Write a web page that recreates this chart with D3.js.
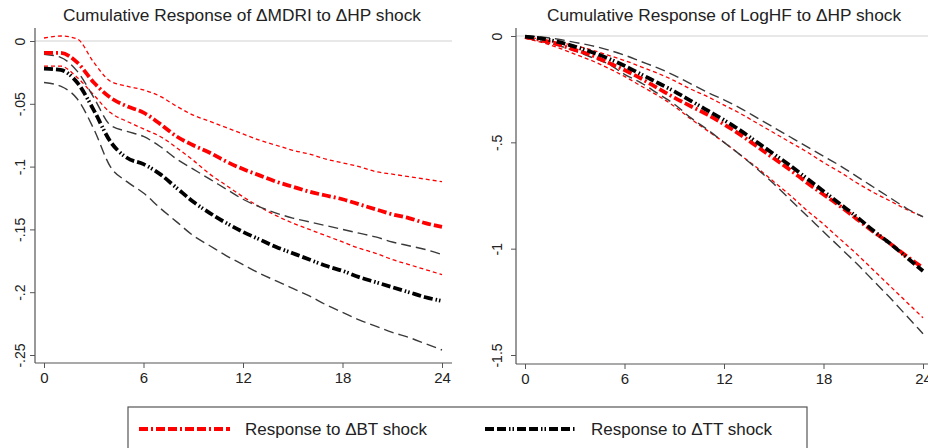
<!DOCTYPE html>
<html>
<head>
<meta charset="utf-8">
<script src="https://cdn.jsdelivr.net/npm/d3@7"></script>
<style>
body{margin:0;background:#fff}
text{font-family:"Liberation Sans",Arial,Helvetica,sans-serif;fill:#222}
</style>
</head>
<body>
<div id="Chart"></div>
<script>
// horizons (months) and tick labels
var horizon=[0,1,2,3,4,5,6,7,8,9,10,11,12,13,14,15,16,17,18,19,20,21,22,23,24]
var xTicks=[0,6,12,18,24]
var mdriTicks=[0,-0.05,-0.1,-0.15,-0.2,-0.25]
var mdriTickLabels=["0","-.05","-.1","-.15","-.2","-.25"]
var hfTicks=[0,-0.5,-1,-1.5]
var hfTickLabels=["0","-.5","-1","-1.5"]
var titles=["Cumulative Response of \u0394MDRI to \u0394HP shock","Cumulative Response of LogHF to \u0394HP shock"]
var legendLabels=["Response to \u0394BT shock","Response to \u0394TT shock"]

// left panel: cumulative response of dMDRI
var mdriBT=[-0.0095,-0.0095,-0.017,-0.033,-0.045,-0.052,-0.057,-0.066,-0.076,-0.083,-0.089,-0.096,-0.102,-0.107,-0.112,-0.116,-0.12,-0.123,-0.126,-0.13,-0.134,-0.138,-0.141,-0.145,-0.148]
var mdriBThi=[0.0024,0.004,0.0016,-0.017,-0.032,-0.036,-0.039,-0.044,-0.052,-0.059,-0.064,-0.069,-0.074,-0.079,-0.083,-0.087,-0.09,-0.094,-0.097,-0.1,-0.104,-0.106,-0.108,-0.11,-0.112]
var mdriBTlo=[-0.02,-0.02,-0.029,-0.043,-0.057,-0.064,-0.07,-0.076,-0.085,-0.095,-0.106,-0.115,-0.124,-0.132,-0.139,-0.145,-0.15,-0.155,-0.16,-0.165,-0.169,-0.174,-0.178,-0.182,-0.186]
var mdriTT=[-0.022,-0.023,-0.033,-0.055,-0.08,-0.093,-0.098,-0.106,-0.117,-0.128,-0.137,-0.145,-0.152,-0.158,-0.164,-0.169,-0.174,-0.179,-0.183,-0.188,-0.192,-0.196,-0.2,-0.204,-0.207]
var mdriTThi=[-0.0105,-0.013,-0.024,-0.045,-0.067,-0.072,-0.076,-0.084,-0.094,-0.102,-0.11,-0.118,-0.126,-0.132,-0.137,-0.141,-0.144,-0.147,-0.15,-0.153,-0.156,-0.16,-0.163,-0.166,-0.17]
var mdriTTlo=[-0.033,-0.036,-0.046,-0.07,-0.1,-0.112,-0.121,-0.133,-0.144,-0.155,-0.163,-0.171,-0.178,-0.185,-0.191,-0.197,-0.203,-0.21,-0.216,-0.222,-0.227,-0.232,-0.236,-0.241,-0.246]

// right panel: cumulative response of LogHF
var hfBT=[-0.005,-0.02,-0.04,-0.065,-0.09,-0.125,-0.16,-0.2,-0.245,-0.29,-0.33,-0.37,-0.415,-0.465,-0.52,-0.575,-0.63,-0.69,-0.745,-0.8,-0.86,-0.92,-0.975,-1.035,-1.09]
var hfBThi=[-0.005,-0.015,-0.03,-0.045,-0.065,-0.09,-0.115,-0.145,-0.175,-0.21,-0.25,-0.285,-0.325,-0.365,-0.41,-0.455,-0.5,-0.545,-0.595,-0.64,-0.69,-0.735,-0.775,-0.815,-0.85]
var hfBTlo=[-0.01,-0.03,-0.055,-0.085,-0.115,-0.15,-0.19,-0.235,-0.28,-0.33,-0.39,-0.445,-0.5,-0.56,-0.62,-0.685,-0.75,-0.82,-0.885,-0.955,-1.025,-1.1,-1.175,-1.25,-1.325]
var hfTT=[-0.003,-0.012,-0.028,-0.05,-0.075,-0.105,-0.14,-0.18,-0.22,-0.26,-0.305,-0.35,-0.395,-0.445,-0.5,-0.555,-0.61,-0.67,-0.73,-0.79,-0.85,-0.915,-0.975,-1.04,-1.105]
var hfTThi=[0,-0.005,-0.015,-0.03,-0.045,-0.065,-0.09,-0.12,-0.15,-0.185,-0.225,-0.265,-0.3,-0.34,-0.385,-0.43,-0.475,-0.52,-0.565,-0.61,-0.66,-0.71,-0.76,-0.81,-0.85]
var hfTTlo=[-0.01,-0.025,-0.045,-0.07,-0.1,-0.13,-0.18,-0.22,-0.27,-0.32,-0.385,-0.44,-0.5,-0.56,-0.625,-0.695,-0.77,-0.845,-0.92,-0.995,-1.07,-1.15,-1.23,-1.315,-1.4]

var Width=928,Height=448
var red="#ff0000",black="#000",grey="#3a3a3a",axisCol="#555"
var styles={
  center:{w:3.8,bt:"9,3,2,3,9,3",tt:"9,3,9,3,1.5,2,1.5,3"},
  redBand:{w:1.3,dash:"4,3"},
  blackBand:{w:1.4,dash:"10,5"}
}

var svg=d3.select("#Chart") //Create SVG item
  .append("svg")
    .attr("width",Width)
    .attr("height",Height)

var panel=(opt)=>{
  var g=svg.append("g")
  var X=d3.scaleLinear().domain([0,24]).range(opt.xr)
  var Y=d3.scaleLinear().domain(opt.yd).range(opt.yr)

  // zero reference line
  g.append("line")
    .attr("x1",opt.ax).attr("x2",opt.right)
    .attr("y1",Y(0)).attr("y2",Y(0))
    .attr("stroke","#d2d2d2").attr("stroke-width",1.2)

  // Y axis
  var yAxis=g.append("g")
    .attr("transform",`translate(${opt.ax},0)`)
    .call(d3.axisLeft(Y).tickValues(opt.ticks).tickFormat((d,i)=>opt.labels[i]).tickSize(5).tickSizeOuter(0))
  yAxis.select(".domain").remove()
  yAxis.selectAll("line").attr("stroke",axisCol)
  yAxis.selectAll("text")
    .attr("transform","rotate(-90)")
    .attr("x",0).attr("y",opt.labOff).attr("dy",0)
    .style("text-anchor","middle")
    .style("font-size","14px")
  g.append("line")
    .attr("x1",opt.ax).attr("x2",opt.ax)
    .attr("y1",28).attr("y2",opt.base)
    .attr("stroke",axisCol).attr("stroke-width",1.2)

  // X axis
  var xAxis=g.append("g")
    .attr("transform",`translate(0,${opt.base})`)
    .call(d3.axisBottom(X).tickValues(xTicks).tickSize(5).tickSizeOuter(0))
  xAxis.select(".domain").remove()
  xAxis.selectAll("line").attr("stroke",axisCol)
  xAxis.selectAll("text").attr("y",9).style("font-size","15px")
  g.append("line")
    .attr("x1",opt.ax).attr("x2",opt.right)
    .attr("y1",opt.base).attr("y2",opt.base)
    .attr("stroke",axisCol).attr("stroke-width",1.2)

  g.append("text")
    .attr("x",opt.tx).attr("y",21)
    .attr("text-anchor","middle")
    .style("font-size","17.3px")
    .text(opt.title)

  var line=d3.line()
    .x((d,i)=>X(horizon[i]))
    .y(d=>Y(d))
    .curve(d3.curveMonotoneX)

  var series=[
    {v:opt.s[1],c:red,w:styles.redBand.w,d:styles.redBand.dash},
    {v:opt.s[2],c:red,w:styles.redBand.w,d:styles.redBand.dash},
    {v:opt.s[4],c:grey,w:styles.blackBand.w,d:styles.blackBand.dash},
    {v:opt.s[5],c:grey,w:styles.blackBand.w,d:styles.blackBand.dash},
    {v:opt.s[0],c:red,w:styles.center.w,d:styles.center.bt},
    {v:opt.s[3],c:black,w:styles.center.w,d:styles.center.tt}
  ]
  g.selectAll("path.series")
    .data(series)
    .enter()
    .append("path")
      .attr("class","series")
      .attr("d",d=>line(d.v))
      .attr("fill","none")
      .attr("stroke",d=>d.c)
      .attr("stroke-width",d=>d.w)
      .attr("stroke-dasharray",d=>d.d)
}

panel({xr:[44,442],yd:[0,-0.25],yr:[41,355],ax:35,right:452,base:363,labOff:-10,tx:242,
  ticks:mdriTicks,labels:mdriTickLabels,title:titles[0],
  s:[mdriBT,mdriBThi,mdriBTlo,mdriTT,mdriTThi,mdriTTlo]})
panel({xr:[525,923],yd:[0,-1.5],yr:[36,355],ax:516,right:940,base:364,labOff:-14,tx:724,
  ticks:hfTicks,labels:hfTickLabels,title:titles[1],
  s:[hfBT,hfBThi,hfBTlo,hfTT,hfTThi,hfTTlo]})

// legend
var leg=svg.append("g")
leg.append("rect")
  .attr("x",128).attr("y",407)
  .attr("width",679).attr("height",60)
  .attr("fill","none").attr("stroke",axisCol).attr("stroke-width",1.2)
var items=[{x:139,c:red,d:styles.center.bt},{x:485,c:black,d:styles.center.tt}]
items.forEach((it,i)=>{
  leg.append("line")
    .attr("x1",it.x).attr("x2",it.x+91)
    .attr("y1",429).attr("y2",429)
    .attr("stroke",it.c).attr("stroke-width",styles.center.w)
    .attr("stroke-dasharray",it.d)
  leg.append("text")
    .attr("x",it.x+106).attr("y",435)
    .style("font-size","17px")
    .text(legendLabels[i])
})
</script>
</body>
</html>
